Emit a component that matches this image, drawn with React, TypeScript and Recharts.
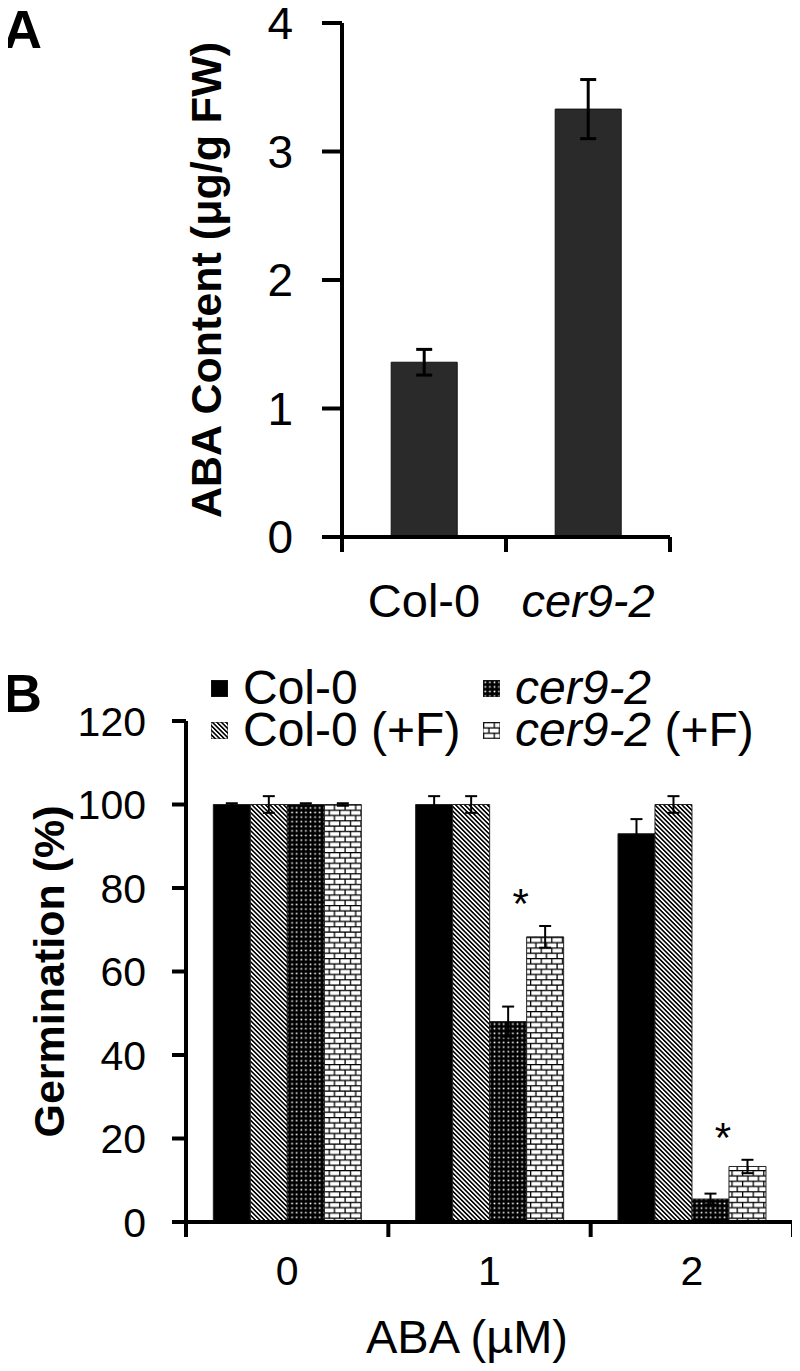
import React from 'react';
import { BarChart, Bar, XAxis, YAxis, ErrorBar, Legend, LabelList, Label } from 'recharts';

// ---- Panel A: ABA content ----
const genotypes = ['Col-0', 'cer9-2'];
const abaContent = [1.36, 3.33];
const abaContentErr = [0.1, 0.23];
const abaTicks = [0, 1, 2, 3, 4];

// ---- Panel B: germination on ABA ----
const abaDoses = ['0', '1', '2'];
const germCol0 = [100, 100, 93];
const germCol0Err = [0.3, 2, 3.5];
const germCol0F = [100, 100, 100];
const germCol0FErr = [2, 2, 2];
const germCer = [100, 48, 5.5];
const germCerErr = [0.3, 3.6, 1.3];
const germCerF = [100, 68.3, 13.3];
const germCerFErr = [0.3, 2.6, 1.6];
const significance = ['', '*', '*'];
const germTicks = [0, 20, 40, 60, 80, 100, 120];

const seriesB = [
  { key: 'col0', name: 'Col-0', fill: '#000' },
  { key: 'col0F', name: 'Col-0 (+F)', fill: 'url(#hatch)' },
  { key: 'cer', name: 'cer9-2', fill: 'url(#dots)' },
  { key: 'cerF', name: 'cer9-2 (+F)', fill: 'url(#brick)' },
];

const dataA = genotypes.map((g, i) => ({ genotype: g, aba: abaContent[i], abaErr: abaContentErr[i] }));

const dataB = abaDoses.map((d, i) => ({
  dose: d,
  col0: germCol0[i],
  col0Err: germCol0Err[i],
  col0F: germCol0F[i],
  col0FErr: germCol0FErr[i],
  cer: germCer[i],
  cerErr: germCerErr[i],
  cerF: germCerF[i],
  cerFErr: germCerFErr[i],
  sig: significance[i],
}));

const FONT = '"Liberation Sans", Arial, Helvetica, sans-serif';

// splits "cer9-2 (+F)" into italic gene name + upright rest
const svgName = (name: string) => {
  if (name.startsWith('cer9-2')) {
    return (
      <>
        <tspan fontStyle="italic">cer9-2</tspan>
        {name.slice(6) && <tspan>{name.slice(6)}</tspan>}
      </>
    );
  }
  return name;
};

const htmlName = (name: string) => {
  if (name.startsWith('cer9-2')) {
    return (
      <>
        <i>cer9-2</i>
        {name.slice(6)}
      </>
    );
  }
  return name;
};

// category tick: label + boundary tick marks (between categories)
const makeEdgeTick = (fontSize: number, labelDy: number) => (props: any) => {
  const { x, y, payload, index, visibleTicksCount } = props;
  const half = payload?.offset ?? 0;
  return (
    <g>
      <line x1={x - half} x2={x - half} y1={y} y2={y + 15} stroke="#000" strokeWidth={4} />
      {index === visibleTicksCount - 1 && (
        <line x1={x + half} x2={x + half} y1={y} y2={y + 15} stroke="#000" strokeWidth={4} />
      )}
      <text x={x} y={y + labelDy} textAnchor="middle" fontSize={fontSize} fill="#000">
        {svgName(String(payload.value))}
      </text>
    </g>
  );
};

const Asterisk = (props: any) => {
  const vb = props.viewBox ?? props;
  const { x, y, height } = vb;
  const { value, index } = props;
  if (!value) return null;
  const pxPerUnit = height / germCerF[index];
  const errTop = y - germCerFErr[index] * pxPerUnit;
  return (
    <text x={x - 6} y={errTop - 32 + 24} textAnchor="middle" fontSize={42} fill="#000">
      {value}
    </text>
  );
};

const LegendB = () => (
  <div
    style={{
      display: 'grid',
      gridTemplateRows: '42px 42px',
      gridTemplateColumns: '272px auto',
      gridAutoFlow: 'column',
      fontSize: 48,
      color: '#000',
      fontFamily: FONT,
    }}
  >
    {seriesB.map((s) => (
      <div key={s.key} style={{ display: 'flex', alignItems: 'center', whiteSpace: 'nowrap', height: 42 }}>
        <svg width={17} height={17} style={{ marginRight: 15, flex: 'none' }}>
          <rect x={0} y={0} width={17} height={17} fill={s.fill} stroke="#222" strokeWidth={1} />
        </svg>
        <span style={{ display: 'block', height: 42, lineHeight: '42px', overflow: 'visible' }}>{htmlName(s.name)}</span>
      </div>
    ))}
  </div>
);

const PanelLetter = ({ text, top }: { text: string; top: number }) => (
  <div
    style={{
      position: 'absolute',
      left: 3,
      top,
      fontSize: 54,
      fontWeight: 'bold',
      lineHeight: 1,
      fontFamily: FONT,
      color: '#000',
    }}
  >
    {text}
  </div>
);

export default function App() {
  return (
    <div style={{ position: 'relative', width: 800, height: 1371, margin: -8, background: '#fff', fontFamily: FONT }}>
      <PanelLetter text="A" top={2} />
      <PanelLetter text="B" top={666} />

      <div style={{ position: 'absolute', left: 0, top: 0 }}>
        <BarChart
          width={800}
          height={640}
          data={dataA}
          margin={{ top: 23, right: 130, bottom: 43, left: 0 }}
          barCategoryGap="30%"
          style={{ overflow: 'visible' }}
        >
          <YAxis
            width={342}
            domain={[0, 4]}
            ticks={abaTicks}
            interval={0}
            tickSize={20}
            tickMargin={29}
            tick={{ fill: '#000', fontSize: 46 }}
            axisLine={{ stroke: '#000', strokeWidth: 4 }}
            tickLine={{ stroke: '#000', strokeWidth: 4 }}
          >
            <Label
              content={(p: any) => {
                const vb = p.viewBox;
                const cy = vb.y + vb.height / 2;
                return (
                  <text
                    x={206}
                    y={cy}
                    transform={`rotate(-90, 206, ${cy})`}
                    textAnchor="middle"
                    dominantBaseline="central"
                    fontSize={43}
                    fontWeight="bold"
                    fill="#000"
                  >
                    ABA Content (μg/g FW)
                  </text>
                );
              }}
            />
          </YAxis>
          <XAxis
            dataKey="genotype"
            height={60}
            interval={0}
            tickSize={0}
            tickMargin={0}
            tickLine={false}
            axisLine={{ stroke: '#000', strokeWidth: 4 }}
            tick={makeEdgeTick(47, 80)}
          />
          <Bar dataKey="aba" fill="#2a2a2a" stroke="#111" strokeWidth={1} isAnimationActive={false}>
            <ErrorBar dataKey="abaErr" width={8} strokeWidth={3} stroke="#000" direction="y" isAnimationActive={false} />
          </Bar>
        </BarChart>
      </div>

      <div style={{ position: 'absolute', left: 0, top: 640 }}>
        <BarChart
          width={800}
          height={731}
          data={dataB}
          margin={{ top: 81, right: 7, bottom: 49, left: 0 }}
          barCategoryGap="13.5%"
          barGap={0}
        >
          <defs>
            <pattern id="hatch" width={3.2} height={3.2} patternUnits="userSpaceOnUse" patternTransform="rotate(-45)">
              <rect width={3.2} height={3.2} fill="#fff" />
              <line x1={0.8} y1={0} x2={0.8} y2={3.2} stroke="#000" strokeWidth={1.6} />
            </pattern>
            <pattern id="dots" width={4.6} height={4.6} patternUnits="userSpaceOnUse">
              <rect width={4.6} height={4.6} fill="#000" />
              <rect x={1.5} y={1.5} width={1.6} height={1.6} fill="#fff" />
            </pattern>
            <pattern id="brick" width={10.6} height={10.6} patternUnits="userSpaceOnUse">
              <rect width={10.6} height={10.6} fill="#fff" />
              <line x1={0} y1={0.6} x2={10.6} y2={0.6} stroke="#000" strokeWidth={1.3} />
              <line x1={0} y1={5.9} x2={10.6} y2={5.9} stroke="#000" strokeWidth={1.3} />
              <line x1={0.6} y1={0.6} x2={0.6} y2={5.9} stroke="#000" strokeWidth={1.3} />
              <line x1={5.9} y1={5.9} x2={5.9} y2={10.6} stroke="#000" strokeWidth={1.3} />
            </pattern>
          </defs>
          <YAxis
            width={186}
            domain={[0, 120]}
            ticks={germTicks}
            interval={0}
            tickSize={14}
            tickMargin={26}
            tick={{ fill: '#000', fontSize: 41 }}
            axisLine={{ stroke: '#000', strokeWidth: 4 }}
            tickLine={{ stroke: '#000', strokeWidth: 4 }}
          >
            <Label
              content={(p: any) => {
                const vb = p.viewBox;
                const cy = vb.y + vb.height / 2;
                return (
                  <text
                    x={49}
                    y={cy}
                    transform={`rotate(-90, 49, ${cy})`}
                    textAnchor="middle"
                    dominantBaseline="central"
                    fontSize={43}
                    fontWeight="bold"
                    fill="#000"
                  >
                    Germination (%)
                  </text>
                );
              }}
            />
          </YAxis>
          <XAxis
            dataKey="dose"
            height={100}
            interval={0}
            tickSize={0}
            tickMargin={0}
            tickLine={false}
            axisLine={{ stroke: '#000', strokeWidth: 4 }}
            tick={makeEdgeTick(41, 63)}
          >
            <Label
              content={(p: any) => {
                const vb = p.viewBox;
                return (
                  <text x={467} y={vb.y + 131} textAnchor="middle" fontSize={47} fill="#000">
                    ABA (µM)
                  </text>
                );
              }}
            />
          </XAxis>
          <Legend
            layout="horizontal"
            verticalAlign="middle"
            align="center"
            wrapperStyle={{ left: 211, top: 27, width: 585, height: 84 }}
            content={() => <LegendB />}
          />
          {seriesB.map((s) => (
            <Bar
              key={s.key}
              dataKey={s.key}
              name={s.name}
              fill={s.fill}
              stroke="#222"
              strokeWidth={1}
              isAnimationActive={false}
            >
              <ErrorBar dataKey={`${s.key}Err`} width={6} strokeWidth={2} stroke="#000" direction="y" isAnimationActive={false} />
              {s.key === 'cerF' && <LabelList dataKey="sig" content={<Asterisk />} />}
            </Bar>
          ))}
        </BarChart>
      </div>
    </div>
  );
}
